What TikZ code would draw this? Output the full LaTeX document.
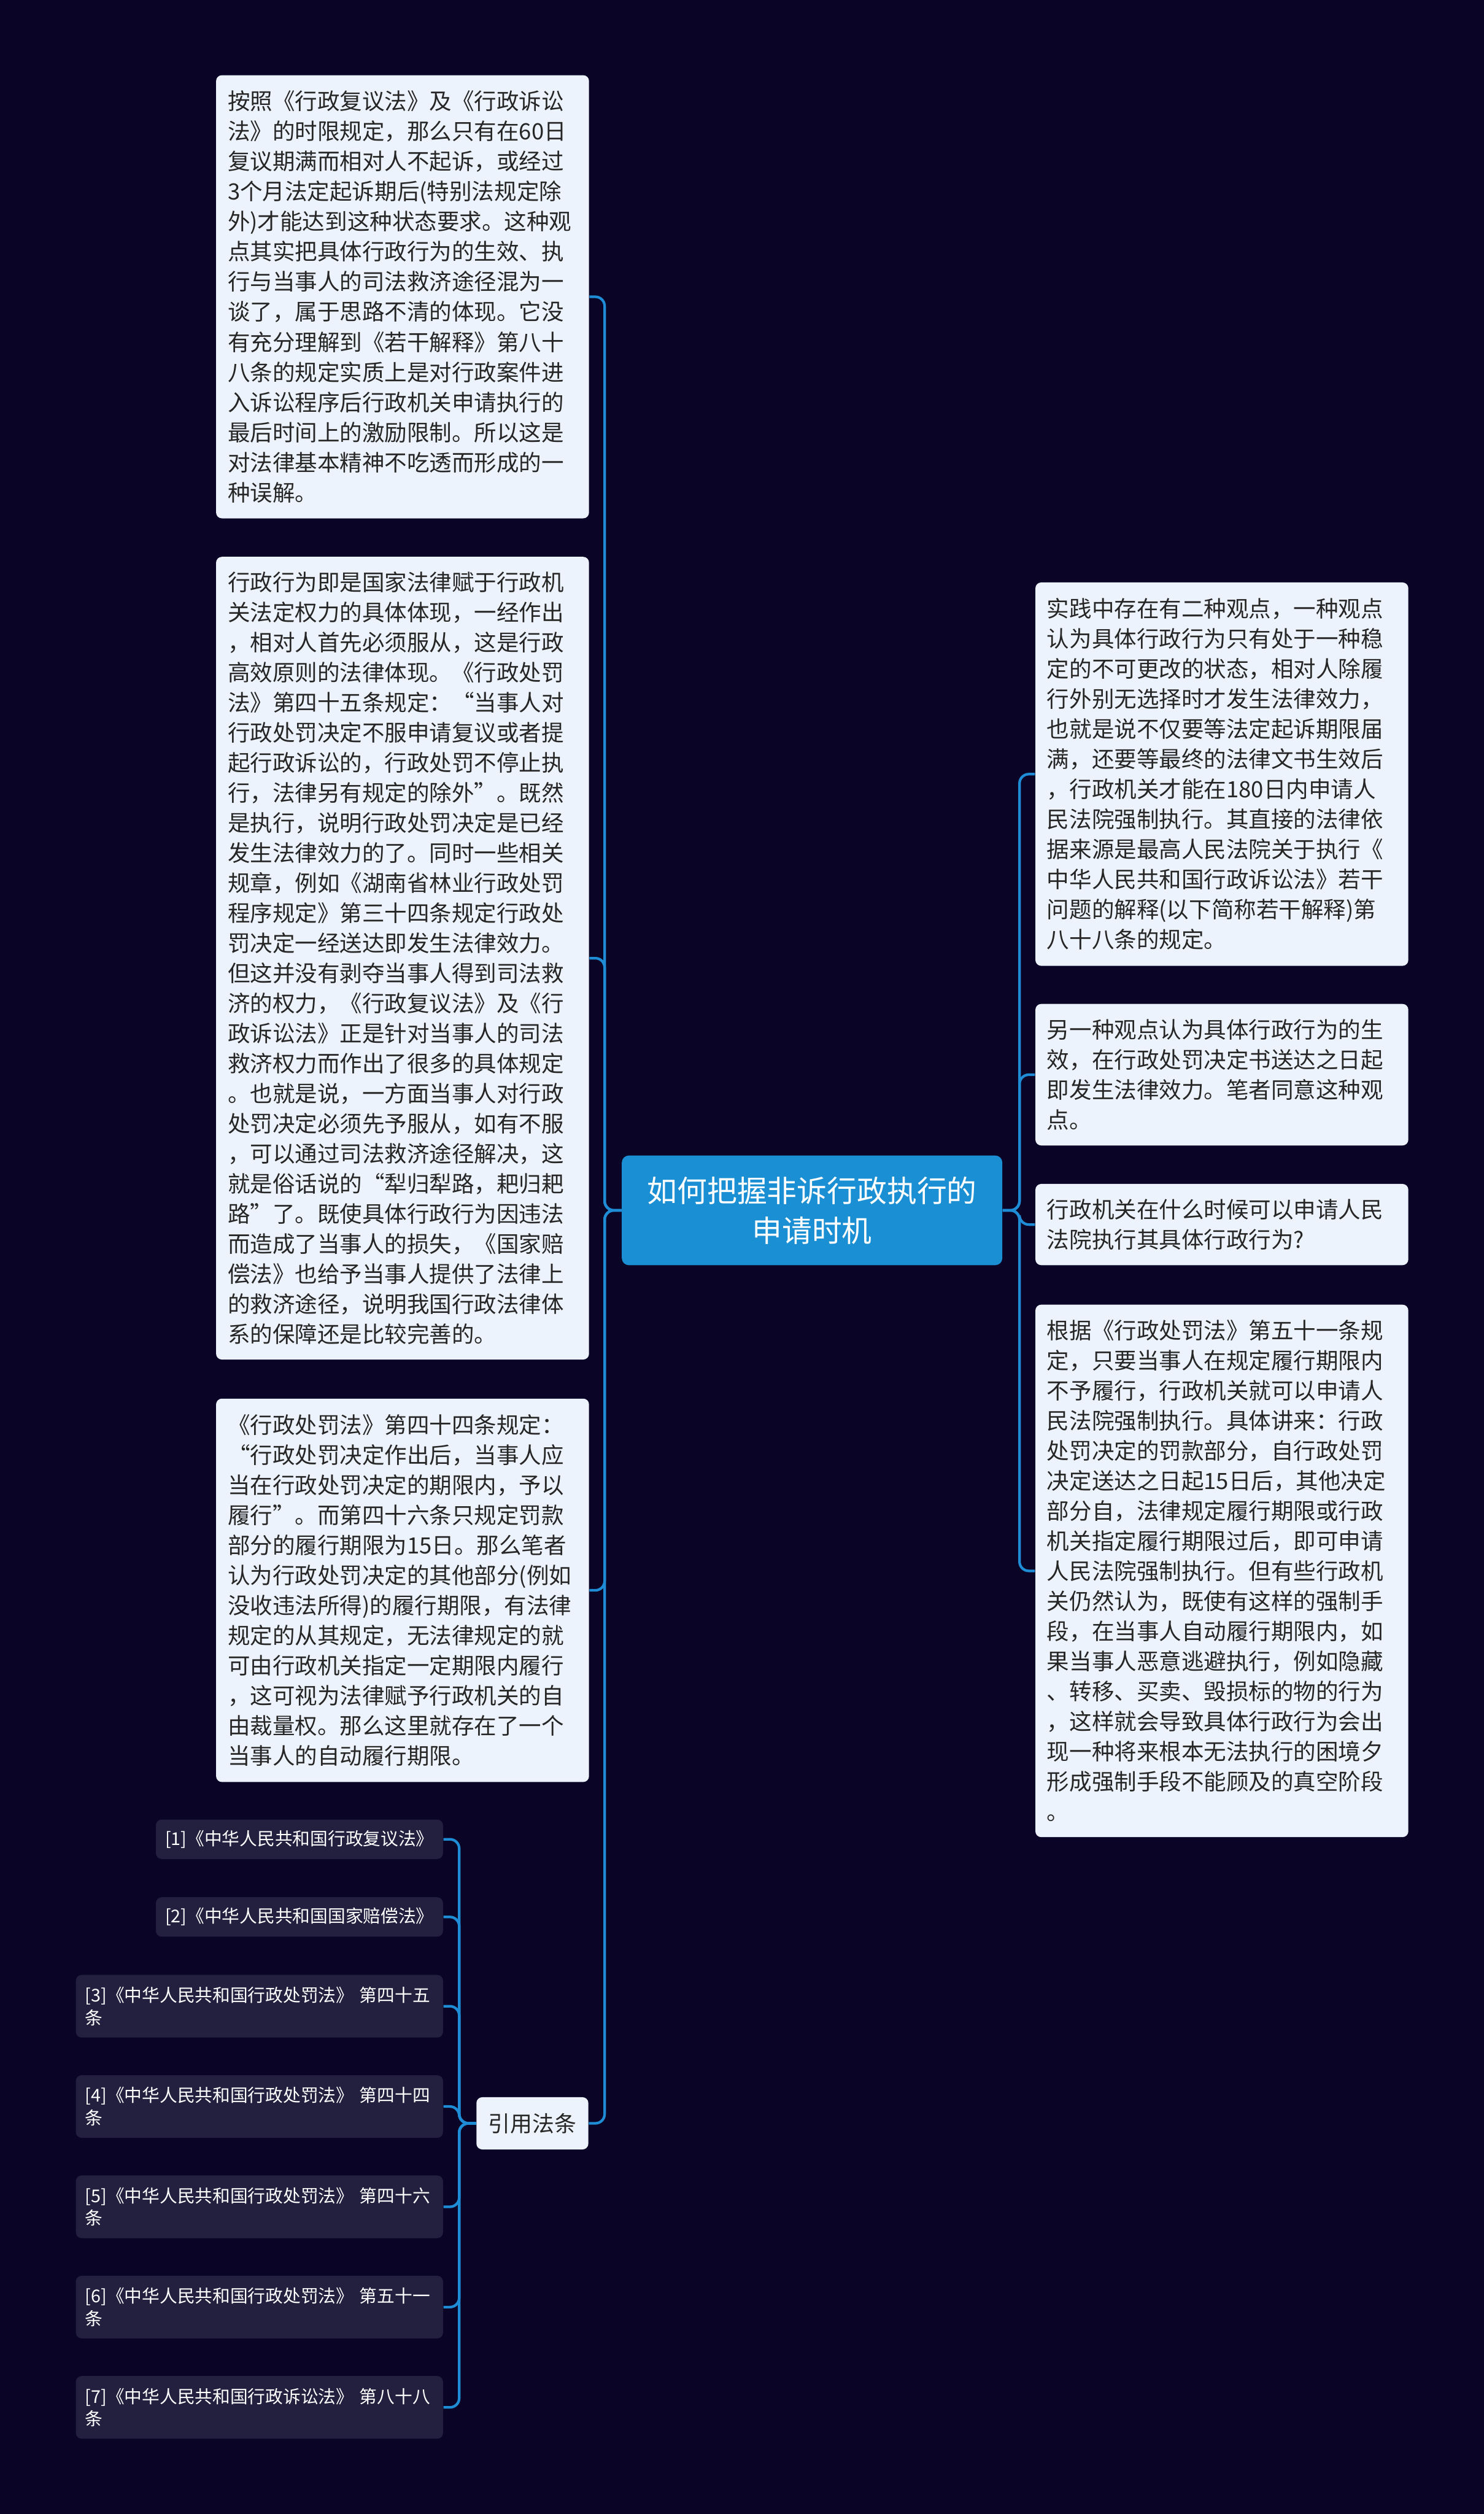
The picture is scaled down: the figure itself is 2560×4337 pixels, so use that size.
\documentclass[tikz,border=0pt]{standalone}
\usepackage{fontspec}
\newfontfamily\cjkfont{Noto Sans CJK SC}
\usepackage{tikz}
\usetikzlibrary{positioning}
\definecolor{bgnavy}{HTML}{0A0527}
\definecolor{leafbg}{HTML}{EDF3FC}
\definecolor{leaftext}{HTML}{262626}
\definecolor{rootbg}{HTML}{1B8FD3}
\definecolor{refbg}{HTML}{23203F}
\definecolor{linkblue}{HTML}{1F8CD6}
\tikzset{
  leaf/.style={rounded corners=0.1cm, fill=leafbg, text=leaftext, align=left,
    font=\cjkfont\fontsize{11}{14.76}\selectfont, text width=6.03cm,
    inner xsep=0.2cm, inner ysep=0pt},
  topic/.style={rounded corners=0.12cm, fill=rootbg, text=white, align=center,
    font=\cjkfont\fontsize{14.7}{19.6}\selectfont, minimum width=6.56cm,
    minimum height=1.89cm, inner sep=0pt},
  refitem/.style={rounded corners=0.1cm, fill=refbg, text=white, anchor=east,
    font=\cjkfont\fontsize{8.65}{11}\selectfont, inner xsep=0.16cm, inner ysep=0pt,
    minimum height=0.68cm},
  reflong/.style={refitem, align=left, text width=6.01cm, minimum height=1.08cm},
  link/.style={draw=linkblue, line width=0.045cm, rounded corners=0.16cm}
}
\begin{document}
\begin{tikzpicture}[x=0.01cm, y=-0.01cm]
% Fond
\fill[bgnavy] (0,0) rectangle (2560,4337);
\useasboundingbox (0,0) rectangle (2560,4337);
% Sujet central
\node[topic] (root) at (1401,2088) {如何把握非诉行政执行的\\申请时机};
% Branches gauche
\node[leaf, minimum height=7.64cm] (l1) at (694.5,512) {按照《行政复议法》及《行政诉讼\\法》的时限规定，那么只有在60日\\复议期满而相对人不起诉，或经过\\3个月法定起诉期后(特别法规定除\\外)才能达到这种状态要求。这种观\\点其实把具体行政行为的生效、执\\行与当事人的司法救济途径混为一\\谈了，属于思路不清的体现。它没\\有充分理解到《若干解释》第八十\\八条的规定实质上是对行政案件进\\入诉讼程序后行政机关申请执行的\\最后时间上的激励限制。所以这是\\对法律基本精神不吃透而形成的一\\种误解。};
\node[leaf, minimum height=13.84cm] (l2) at (694.5,1653) {行政行为即是国家法律赋于行政机\\关法定权力的具体体现，一经作出\\，相对人首先必须服从，这是行政\\高效原则的法律体现。《行政处罚\\法》第四十五条规定：“当事人对\\行政处罚决定不服申请复议或者提\\起行政诉讼的，行政处罚不停止执\\行，法律另有规定的除外”。既然\\是执行，说明行政处罚决定是已经\\发生法律效力的了。同时一些相关\\规章，例如《湖南省林业行政处罚\\程序规定》第三十四条规定行政处\\罚决定一经送达即发生法律效力。\\但这并没有剥夺当事人得到司法救\\济的权力，《行政复议法》及《行\\政诉讼法》正是针对当事人的司法\\救济权力而作出了很多的具体规定\\。也就是说，一方面当事人对行政\\处罚决定必须先予服从，如有不服\\，可以通过司法救济途径解决，这\\就是俗话说的“犁归犁路，耙归耙\\路”了。既使具体行政行为因违法\\而造成了当事人的损失，《国家赔\\偿法》也给予当事人提供了法律上\\的救济途径，说明我国行政法律体\\系的保障还是比较完善的。};
\node[leaf, minimum height=6.61cm] (l3) at (694.5,2743.5) {《行政处罚法》第四十四条规定：\\“行政处罚决定作出后，当事人应\\当在行政处罚决定的期限内，予以\\履行”。而第四十六条只规定罚款\\部分的履行期限为15日。那么笔者\\认为行政处罚决定的其他部分(例如\\没收违法所得)的履行期限，有法律\\规定的从其规定，无法律规定的就\\可由行政机关指定一定期限内履行\\，这可视为法律赋予行政机关的自\\由裁量权。那么这里就存在了一个\\当事人的自动履行期限。};
\node[leaf, align=center, text width=, minimum width=1.93cm, minimum height=0.9cm, inner xsep=0pt,
  font=\cjkfont\fontsize{10.8}{14}\selectfont] (lawref) at (918.5,3663) {引用法条};
% Branches droite
\node[leaf, minimum height=6.61cm] (r1) at (2108,1335.5) {实践中存在有二种观点，一种观点\\认为具体行政行为只有处于一种稳\\定的不可更改的状态，相对人除履\\行外别无选择时才发生法律效力，\\也就是说不仅要等法定起诉期限届\\满，还要等最终的法律文书生效后\\，行政机关才能在180日内申请人\\民法院强制执行。其直接的法律依\\据来源是最高人民法院关于执行《\\中华人民共和国行政诉讼法》若干\\问题的解释(以下简称若干解释)第\\八十八条的规定。};
\node[leaf, minimum height=2.44cm] (r2) at (2108,1854) {另一种观点认为具体行政行为的生\\效，在行政处罚决定书送达之日起\\即发生法律效力。笔者同意这种观\\点。};
\node[leaf, minimum height=1.40cm] (r3) at (2108,2112.5) {行政机关在什么时候可以申请人民\\法院执行其具体行政行为?};
\node[leaf, minimum height=9.18cm] (r4) at (2108,2710) {根据《行政处罚法》第五十一条规\\定，只要当事人在规定履行期限内\\不予履行，行政机关就可以申请人\\民法院强制执行。具体讲来：行政\\处罚决定的罚款部分，自行政处罚\\决定送达之日起15日后，其他决定\\部分自，法律规定履行期限或行政\\机关指定履行期限过后，即可申请\\人民法院强制执行。但有些行政机\\关仍然认为，既使有这样的强制手\\段，在当事人自动履行期限内，如\\果当事人恶意逃避执行，例如隐藏\\、转移、买卖、毁损标的物的行为\\，这样就会导致具体行政行为会出\\现一种将来根本无法执行的困境夕\\形成强制手段不能顾及的真空阶段\\。};
% Articles cites
\node[refitem] (ref1) at (765,3173) {[1]《中华人民共和国行政复议法》};
\node[refitem] (ref2) at (765,3307) {[2]《中华人民共和国国家赔偿法》};
\node[reflong] (ref3) at (765,3461) {[3]《中华人民共和国行政处罚法》 第四十五\\条};
\node[reflong] (ref4) at (765,3634) {[4]《中华人民共和国行政处罚法》 第四十四\\条};
\node[reflong] (ref5) at (765,3807) {[5]《中华人民共和国行政处罚法》 第四十六\\条};
\node[reflong] (ref6) at (765,3980) {[6]《中华人民共和国行政处罚法》 第五十一\\条};
\node[reflong] (ref7) at (765,4153) {[7]《中华人民共和国行政诉讼法》 第八十八\\条};
% Liens
\foreach \n in {l1,l2,l3,lawref}
  \draw[link] (root.west) -- ++(-29,0) |- (\n.east);
\foreach \n in {r1,r2,r3,r4}
  \draw[link] (root.east) -- ++(29,0) |- (\n.west);
\foreach \n in {1,...,7}
  \draw[link] (lawref.west) -- ++(-29,0) |- (ref\n.east);
\end{tikzpicture}
\end{document}
